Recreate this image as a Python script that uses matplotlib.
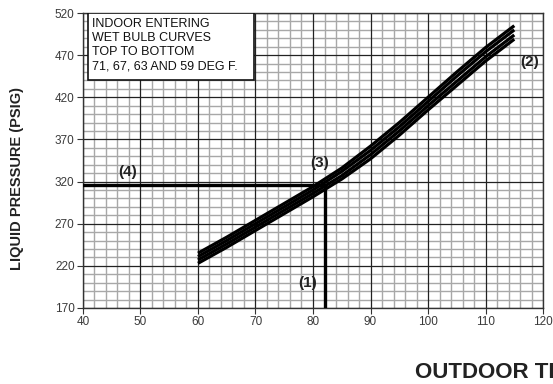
import matplotlib
matplotlib.use('Agg')
import matplotlib.pyplot as plt
from matplotlib.patches import Rectangle

plt.rcParams['font.family'] = ['Liberation Sans', 'DejaVu Sans']

# outdoor temperature (deg F)
outdoor_temp = [60, 65, 70, 75, 80, 85, 90, 95, 100, 105, 110, 115]

# liquid pressure (psig) for each indoor entering wet bulb
wb_71 = [235, 254, 274, 294, 314, 336, 362, 390, 420, 450, 479, 505]
wb_67 = [231, 250, 270, 290, 310, 332, 357, 385, 415, 445, 474, 500]
wb_63 = [227, 246, 266, 286, 306, 327, 352, 380, 410, 439, 468, 494]
wb_59 = [223, 242, 262, 282, 302, 323, 347, 375, 405, 434, 463, 489]

# operating point example
point_temp = 82
point_press = 316

x_ticks = [40, 50, 60, 70, 80, 90, 100, 110, 120]
y_ticks = [170, 220, 270, 320, 370, 420, 470, 520]

fig = plt.figure(figsize=(5.53, 3.84), dpi=100)
ax = fig.add_axes([0.150, 0.198, 0.832, 0.768])

ax.set_xlim(40, 120)
ax.set_ylim(170, 520)

# graph paper grid
for x in range(42, 120, 2):
    if x % 10:
        ax.axvline(x, color='#a8a8a8', lw=1.0, zorder=1)
for y in range(180, 520, 10):
    if (y - 170) % 50:
        ax.axhline(y, color='#a8a8a8', lw=1.0, zorder=1)
for x in x_ticks:
    ax.axvline(x, color='#222222', lw=0.9, zorder=2)
for y in y_ticks:
    ax.axhline(y, color='#222222', lw=0.9, zorder=2)

for curve in [wb_71, wb_67, wb_63, wb_59]:
    ax.plot(outdoor_temp, curve, color='black', lw=2.3, zorder=4,
            solid_capstyle='butt')

ax.plot([40, point_temp], [point_press, point_press], color='black', lw=2.4, zorder=3)
ax.plot([point_temp, point_temp], [170, point_press], color='black', lw=2.4, zorder=3)

ax.set_xticks(x_ticks)
ax.set_yticks(y_ticks)
ax.tick_params(labelsize=8.5, labelcolor='#3a3a3a', length=4, width=0.8,
               color='#333333', pad=2)
for s in ax.spines.values():
    s.set_color('#333333')
    s.set_linewidth(1.0)

ax.add_patch(Rectangle((0.011, 0.773), 0.361, 0.227, transform=ax.transAxes,
                       facecolor='white', edgecolor='#111111', lw=1.2, zorder=5))
ax.text(0.02, 0.982, 'INDOOR ENTERING\nWET BULB CURVES\nTOP TO BOTTOM\n71, 67, 63 AND 59 DEG F.',
        transform=ax.transAxes, ha='left', va='top', fontsize=9,
        color='#111111', linespacing=1.22, zorder=6)

lab = dict(fontsize=11, fontweight='bold', color='#222222', ha='center', va='center', zorder=6)
ax.text(47.8, 331, '(4)', **lab)
ax.text(81.2, 342, '(3)', **lab)
ax.text(117.7, 462, '(2)', **lab)
ax.text(79.0, 200, '(1)', **lab)

fig.text(0.031, 0.535, 'LIQUID PRESSURE (PSIG)', rotation=90, ha='center', va='center',
         fontsize=10.5, fontweight='bold', color='#222222')
fig.text(0.750, 0.031, 'OUTDOOR TEMPERATURE (\u00b0F)', ha='left', va='center',
         fontsize=16, fontweight='bold', color='#222222')

fig.savefig('out.png', dpi=100)
